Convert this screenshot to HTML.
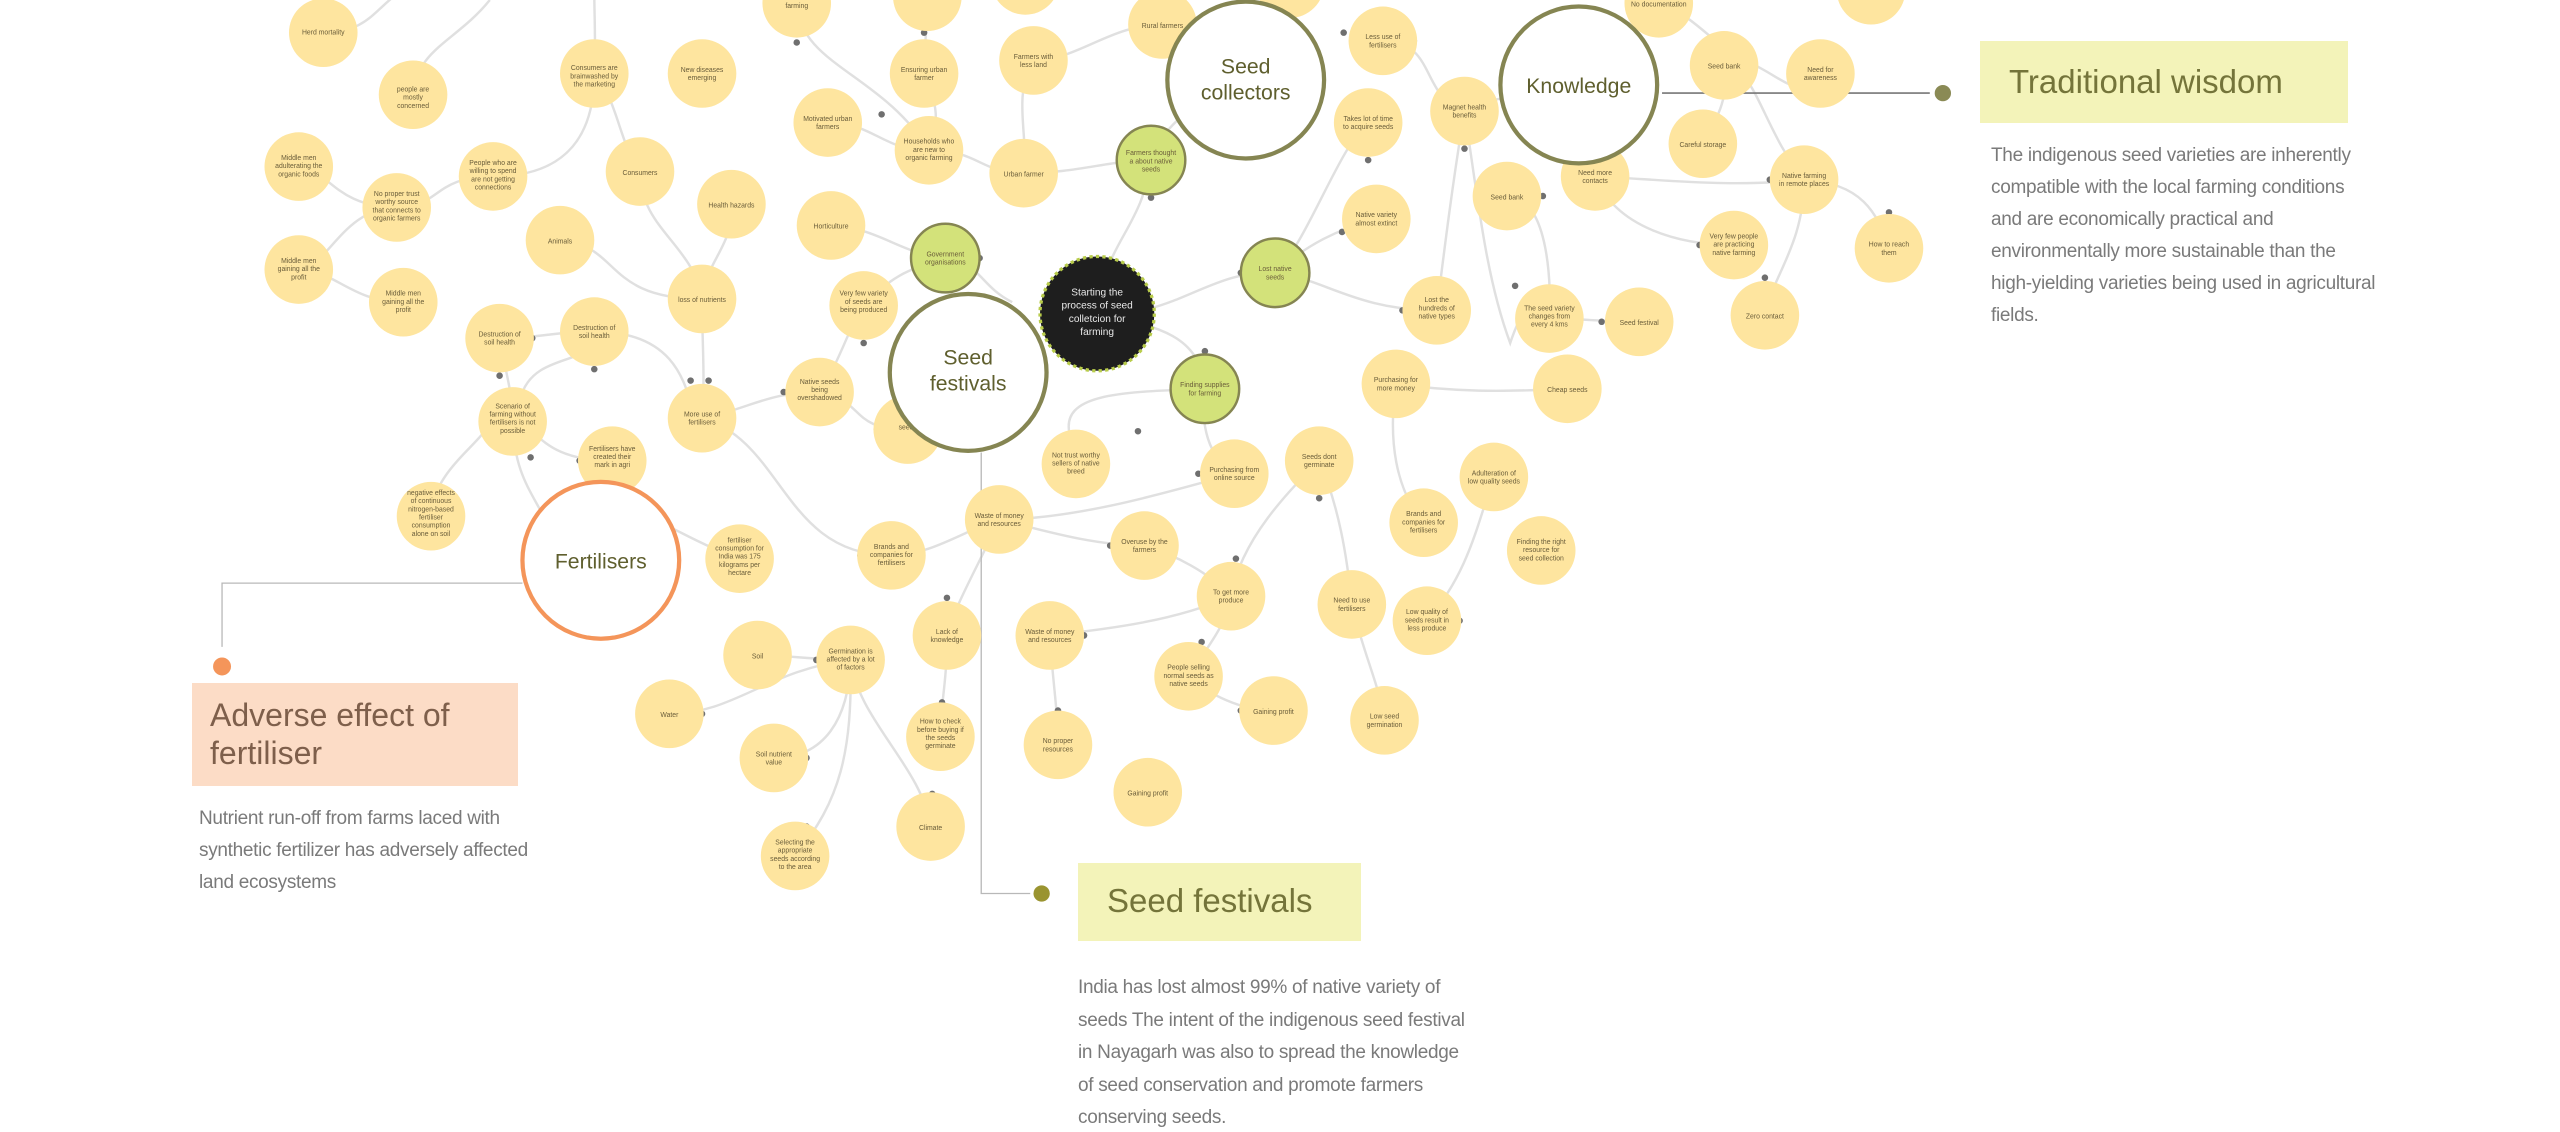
<!DOCTYPE html>
<html><head><meta charset="utf-8"><style>
html,body{margin:0;padding:0;background:#fff;width:2560px;height:1132px;overflow:hidden;position:relative;font-family:"Liberation Sans",sans-serif}
svg{position:absolute;left:0;top:0}
.box{position:absolute;box-sizing:border-box}
.h{font-family:"Liberation Sans",sans-serif;font-size:32px;line-height:38px}
.p{position:absolute;font-size:19px;letter-spacing:-0.3px;line-height:33px;color:#7a7a7a;font-family:"Liberation Sans",sans-serif;white-space:nowrap}
.s text{font-size:4.2px;fill:#6a5d3a;text-anchor:middle;font-family:"Liberation Sans",sans-serif}
</style></head><body>
<svg width="2560" height="1132" viewBox="0 0 1568 693" preserveAspectRatio="none">
<g fill="none" stroke="#e0e0e0" stroke-width="1.5">
<path d="M198 20 C225 20 230 5 245 -5"/>
<path d="M253 58 C255 30 280 25 300 0"/>
<path d="M364 45 C365 25 364 10 364 -5"/>
<path d="M364 45 C364 90 340 108 302 108"/>
<path d="M183 102 C200 102 205 127 243 127"/>
<path d="M183 165 C200 165 210 127 243 127"/>
<path d="M243 127 C270 127 265 108 302 108"/>
<path d="M183 165 C205 165 215 185 247 185"/>
<path d="M364 45 C378 60 380 90 392 105"/>
<path d="M392 105 C392 140 425 150 430 183"/>
<path d="M448 125 C450 150 432 160 430 183"/>
<path d="M343 147 C380 150 370 183 430 183"/>
<path d="M430 183 C430 210 432 230 430 256"/>
<path d="M364 203 C410 203 420 230 425 256"/>
<path d="M306 207 C330 207 340 203 364 203"/>
<path d="M306 207 C310 230 314 240 314 258"/>
<path d="M364 203 C364 225 330 215 320 240"/>
<path d="M314 258 C330 260 330 282 375 282"/>
<path d="M264 316 C265 290 290 275 300 260"/>
<path d="M314 258 C315 290 325 300 335 320"/>
<path d="M430 256 C460 250 470 240 502 240"/>
<path d="M430 256 C480 270 480 340 546 340"/>
<path d="M502 240 C515 220 520 200 529 187"/>
<path d="M502 240 C530 245 520 263 556 263"/>
<path d="M529 187 C545 170 555 165 579 158"/>
<path d="M509 138 C540 140 550 155 579 158"/>
<path d="M579 158 C600 160 600 175 620 185"/>
<path d="M672 192 C675 150 700 140 705 98"/>
<path d="M672 192 C720 195 740 165 781 167"/>
<path d="M672 192 C710 200 735 205 738 238"/>
<path d="M705 98 C680 98 660 106 627 106"/>
<path d="M705 98 C712 75 735 65 750 45"/>
<path d="M627 106 C600 106 600 92 569 92"/>
<path d="M569 92 C540 92 535 75 507 75"/>
<path d="M566 45 C575 65 575 75 569 92"/>
<path d="M566 45 C566 30 568 15 568 0"/>
<path d="M488 2 C490 40 540 45 569 92"/>
<path d="M627 106 C630 80 620 60 633 37"/>
<path d="M633 37 C660 37 680 15 712 15"/>
<path d="M781 167 C800 150 820 90 838 75"/>
<path d="M781 167 C800 150 820 140 843 134"/>
<path d="M781 167 C810 170 830 190 880 190"/>
<path d="M897 68 C890 110 885 150 880 190"/>
<path d="M847 25 C880 25 870 60 897 68"/>
<path d="M968 52 C930 60 905 60 897 68"/>
<path d="M897 68 C905 120 910 170 925 210 C935 180 940 190 949 195"/>
<path d="M923 120 C950 120 950 180 949 195"/>
<path d="M949 195 C965 195 985 197 1004 197"/>
<path d="M977 108 C1020 110 1060 115 1105 110"/>
<path d="M1056 40 C1060 60 1050 75 1043 88"/>
<path d="M1056 40 C1075 40 1080 80 1105 110"/>
<path d="M1016 2 C1040 10 1050 30 1075 40 C1095 50 1100 60 1115 45"/>
<path d="M1105 110 C1140 112 1150 130 1157 152"/>
<path d="M1105 110 C1105 150 1085 170 1081 193"/>
<path d="M977 108 C990 140 1030 150 1062 150"/>
<path d="M855 235 C890 240 920 240 960 238"/>
<path d="M855 235 C850 270 855 300 872 320"/>
<path d="M738 238 C735 260 740 280 756 290"/>
<path d="M738 238 C690 240 650 240 655 265"/>
<path d="M756 290 C720 300 660 318 612 318"/>
<path d="M612 318 C590 325 570 340 546 340"/>
<path d="M808 282 C790 300 760 330 754 365"/>
<path d="M701 334 C720 340 740 350 754 365"/>
<path d="M612 318 C640 325 670 334 701 334"/>
<path d="M754 365 C750 385 740 395 728 414"/>
<path d="M728 414 C740 425 760 435 780 435"/>
<path d="M915 292 C905 320 900 350 874 380"/>
<path d="M828 370 C835 400 845 420 848 441"/>
<path d="M808 282 C820 310 825 340 828 370"/>
<path d="M643 389 C680 385 720 380 754 365"/>
<path d="M643 389 C645 420 648 435 648 456"/>
<path d="M580 389 C585 370 600 345 612 318"/>
<path d="M580 389 C580 420 576 430 576 451"/>
<path d="M521 404 C500 404 480 401 464 401"/>
<path d="M521 404 C470 410 450 437 410 437"/>
<path d="M521 404 C520 440 505 464 474 464"/>
<path d="M521 404 C522 460 515 490 487 524"/>
<path d="M521 404 C525 440 565 470 570 506"/>
<path d="M453 342 C420 330 410 320 400 320"/>
</g>
<g fill="#6f6f6f">
<circle cx="488" cy="26" r="2"/><circle cx="566" cy="20" r="2"/><circle cx="540" cy="70" r="2"/><circle cx="586" cy="97" r="2"/><circle cx="705" cy="121" r="2"/><circle cx="697" cy="264" r="2"/><circle cx="738" cy="215" r="2"/><circle cx="760" cy="167" r="2"/><circle cx="823" cy="20" r="2"/><circle cx="866" cy="25" r="2"/><circle cx="897" cy="91" r="2"/><circle cx="945" cy="120" r="2"/><circle cx="1084" cy="110" r="2"/><circle cx="1157" cy="130" r="2"/><circle cx="1081" cy="170" r="2"/><circle cx="1041" cy="150" r="2"/><circle cx="981" cy="197" r="2"/><circle cx="859" cy="190" r="2"/><circle cx="928" cy="175" r="2"/><circle cx="838" cy="98" r="2"/><circle cx="822" cy="142" r="2"/><circle cx="1098" cy="40" r="2"/><circle cx="1098" cy="53" r="2"/><circle cx="480" cy="240" r="2"/><circle cx="537" cy="263" r="2"/><circle cx="600" cy="158" r="2"/><circle cx="529" cy="210" r="2"/><circle cx="423" cy="233" r="2"/><circle cx="434" cy="233" r="2"/><circle cx="326" cy="207" r="2"/><circle cx="364" cy="226" r="2"/><circle cx="306" cy="230" r="2"/><circle cx="325" cy="280" r="2"/><circle cx="355" cy="282" r="2"/><circle cx="527" cy="340" r="2"/><circle cx="680" cy="334" r="2"/><circle cx="734" cy="290" r="2"/><circle cx="757" cy="342" r="2"/><circle cx="736" cy="393" r="2"/><circle cx="760" cy="435" r="2"/><circle cx="808" cy="305" r="2"/><circle cx="580" cy="366" r="2"/><circle cx="577" cy="430" r="2"/><circle cx="664" cy="389" r="2"/><circle cx="648" cy="435" r="2"/><circle cx="500" cy="404" r="2"/><circle cx="430" cy="437" r="2"/><circle cx="494" cy="464" r="2"/><circle cx="494" cy="506" r="2"/><circle cx="571" cy="486" r="2"/><circle cx="894" cy="380" r="2"/><circle cx="874" cy="320" r="2"/>
</g>
<g fill="none" stroke="#b8b8b8" stroke-width="0.8">
<path d="M136 396 V357 H320"/>
<path d="M601 277 V547 H631"/>
</g>
<line x1="1018" y1="57" x2="1182" y2="57" stroke="#777" stroke-width="1"/>
<circle cx="1190" cy="57" r="5" fill="#8a8a55"/>
<circle cx="136" cy="408" r="5.5" fill="#f4955a"/>
<circle cx="638" cy="547" r="5" fill="#9a9430"/>
<g class="s" fill="#fee59f">
<circle cx="198" cy="20" r="21"/><circle cx="253" cy="58" r="21"/><circle cx="364" cy="45" r="21"/><circle cx="430" cy="45" r="21"/><circle cx="488" cy="2" r="21"/><circle cx="568" cy="-2" r="21"/><circle cx="628" cy="-12" r="21"/><circle cx="566" cy="45" r="21"/><circle cx="633" cy="37" r="21"/><circle cx="712" cy="15" r="21"/><circle cx="790" cy="-10" r="21"/><circle cx="847" cy="25" r="21"/><circle cx="1016" cy="2" r="21"/><circle cx="1146" cy="-6" r="21"/><circle cx="1056" cy="40" r="21"/><circle cx="1115" cy="45" r="21"/>
<circle cx="183" cy="102" r="21"/><circle cx="243" cy="127" r="21"/><circle cx="302" cy="108" r="21"/><circle cx="392" cy="105" r="21"/><circle cx="507" cy="75" r="21"/><circle cx="569" cy="92" r="21"/><circle cx="627" cy="106" r="21"/><circle cx="897" cy="68" r="21"/><circle cx="838" cy="75" r="21"/><circle cx="977" cy="108" r="21"/><circle cx="1043" cy="88" r="21"/><circle cx="1105" cy="110" r="21"/><circle cx="1157" cy="152" r="21"/><circle cx="923" cy="120" r="21"/><circle cx="1062" cy="150" r="21"/><circle cx="1081" cy="193" r="21"/><circle cx="843" cy="134" r="21"/><circle cx="448" cy="125" r="21"/><circle cx="343" cy="147" r="21"/><circle cx="509" cy="138" r="21"/><circle cx="183" cy="165" r="21"/><circle cx="247" cy="185" r="21"/><circle cx="430" cy="183" r="21"/><circle cx="529" cy="187" r="21"/><circle cx="306" cy="207" r="21"/><circle cx="364" cy="203" r="21"/><circle cx="880" cy="190" r="21"/><circle cx="949" cy="195" r="21"/><circle cx="1004" cy="197" r="21"/><circle cx="502" cy="240" r="21"/><circle cx="430" cy="256" r="21"/><circle cx="556" cy="263" r="21"/><circle cx="314" cy="258" r="21"/><circle cx="375" cy="282" r="21"/><circle cx="855" cy="235" r="21"/><circle cx="960" cy="238" r="21"/><circle cx="659" cy="284" r="21"/><circle cx="756" cy="290" r="21"/><circle cx="808" cy="282" r="21"/><circle cx="264" cy="316" r="21"/><circle cx="453" cy="342" r="21"/><circle cx="612" cy="318" r="21"/><circle cx="546" cy="340" r="21"/><circle cx="701" cy="334" r="21"/><circle cx="872" cy="320" r="21"/><circle cx="915" cy="292" r="21"/><circle cx="944" cy="337" r="21"/><circle cx="754" cy="365" r="21"/><circle cx="828" cy="370" r="21"/><circle cx="874" cy="380" r="21"/><circle cx="464" cy="401" r="21"/><circle cx="521" cy="404" r="21"/><circle cx="580" cy="389" r="21"/><circle cx="643" cy="389" r="21"/><circle cx="410" cy="437" r="21"/><circle cx="728" cy="414" r="21"/><circle cx="780" cy="435" r="21"/><circle cx="848" cy="441" r="21"/><circle cx="474" cy="464" r="21"/><circle cx="576" cy="451" r="21"/><circle cx="648" cy="456" r="21"/><circle cx="703" cy="485" r="21"/><circle cx="487" cy="524" r="21"/><circle cx="570" cy="506" r="21"/>
<text x="198" y="21">Herd mortality</text>
<text x="253" y="56"><tspan x="253">people are</tspan><tspan x="253" dy="5">mostly</tspan><tspan x="253" dy="5">concerned</tspan></text>
<text x="364" y="43"><tspan x="364">Consumers are</tspan><tspan x="364" dy="5">brainwashed by</tspan><tspan x="364" dy="5">the marketing</tspan></text>
<text x="430" y="44"><tspan x="430">New diseases</tspan><tspan x="430" dy="5">emerging</tspan></text>
<text x="488" y="0"><tspan x="488">to do the</tspan><tspan x="488" dy="5">farming</tspan></text>
<text x="566" y="44"><tspan x="566">Ensuring urban</tspan><tspan x="566" dy="5">farmer</tspan></text>
<text x="633" y="36"><tspan x="633">Farmers with</tspan><tspan x="633" dy="5">less land</tspan></text>
<text x="712" y="17">Rural farmers</text>
<text x="847" y="24"><tspan x="847">Less use of</tspan><tspan x="847" dy="5">fertilisers</tspan></text>
<text x="1016" y="4">No documentation</text>
<text x="1056" y="42">Seed bank</text>
<text x="1115" y="44"><tspan x="1115">Need for</tspan><tspan x="1115" dy="5">awareness</tspan></text>
<text x="183" y="98"><tspan x="183">Middle men</tspan><tspan x="183" dy="5">adulterating the</tspan><tspan x="183" dy="5">organic foods</tspan></text>
<text x="243" y="120"><tspan x="243">No proper trust</tspan><tspan x="243" dy="5">worthy source</tspan><tspan x="243" dy="5">that connects to</tspan><tspan x="243" dy="5">organic farmers</tspan></text>
<text x="302" y="101"><tspan x="302">People who are</tspan><tspan x="302" dy="5">willing to spend</tspan><tspan x="302" dy="5">are not getting</tspan><tspan x="302" dy="5">connections</tspan></text>
<text x="392" y="107">Consumers</text>
<text x="507" y="74"><tspan x="507">Motivated urban</tspan><tspan x="507" dy="5">farmers</tspan></text>
<text x="569" y="88"><tspan x="569">Households who</tspan><tspan x="569" dy="5">are new to</tspan><tspan x="569" dy="5">organic farming</tspan></text>
<text x="627" y="108">Urban farmer</text>
<text x="897" y="67"><tspan x="897">Magnet health</tspan><tspan x="897" dy="5">benefits</tspan></text>
<text x="838" y="74"><tspan x="838">Takes lot of time</tspan><tspan x="838" dy="5">to acquire seeds</tspan></text>
<text x="977" y="107"><tspan x="977">Need more</tspan><tspan x="977" dy="5">contacts</tspan></text>
<text x="1043" y="90">Careful storage</text>
<text x="1105" y="109"><tspan x="1105">Native farming</tspan><tspan x="1105" dy="5">in remote places</tspan></text>
<text x="1157" y="151"><tspan x="1157">How to reach</tspan><tspan x="1157" dy="5">them</tspan></text>
<text x="923" y="122">Seed bank</text>
<text x="1062" y="146"><tspan x="1062">Very few people</tspan><tspan x="1062" dy="5">are practicing</tspan><tspan x="1062" dy="5">native farming</tspan></text>
<text x="1081" y="195">Zero contact</text>
<text x="843" y="133"><tspan x="843">Native variety</tspan><tspan x="843" dy="5">almost extinct</tspan></text>
<text x="448" y="127">Health hazards</text>
<text x="343" y="149">Animals</text>
<text x="509" y="140">Horticulture</text>
<text x="183" y="161"><tspan x="183">Middle men</tspan><tspan x="183" dy="5">gaining all the</tspan><tspan x="183" dy="5">profit</tspan></text>
<text x="247" y="181"><tspan x="247">Middle men</tspan><tspan x="247" dy="5">gaining all the</tspan><tspan x="247" dy="5">profit</tspan></text>
<text x="430" y="185">loss of nutrients</text>
<text x="529" y="181"><tspan x="529">Very few variety</tspan><tspan x="529" dy="5">of seeds are</tspan><tspan x="529" dy="5">being produced</tspan></text>
<text x="306" y="206"><tspan x="306">Destruction of</tspan><tspan x="306" dy="5">soil health</tspan></text>
<text x="364" y="202"><tspan x="364">Destruction of</tspan><tspan x="364" dy="5">soil health</tspan></text>
<text x="880" y="185"><tspan x="880">Lost the</tspan><tspan x="880" dy="5">hundreds of</tspan><tspan x="880" dy="5">native types</tspan></text>
<text x="949" y="190"><tspan x="949">The seed variety</tspan><tspan x="949" dy="5">changes from</tspan><tspan x="949" dy="5">every 4 kms</tspan></text>
<text x="1004" y="199">Seed festival</text>
<text x="502" y="235"><tspan x="502">Native seeds</tspan><tspan x="502" dy="5">being</tspan><tspan x="502" dy="5">overshadowed</tspan></text>
<text x="430" y="255"><tspan x="430">More use of</tspan><tspan x="430" dy="5">fertilisers</tspan></text>
<text x="556" y="263">seeds</text>
<text x="314" y="250"><tspan x="314">Scenario of</tspan><tspan x="314" dy="5">farming without</tspan><tspan x="314" dy="5">fertilisers is not</tspan><tspan x="314" dy="5">possible</tspan></text>
<text x="375" y="276"><tspan x="375">Fertilisers have</tspan><tspan x="375" dy="5">created their</tspan><tspan x="375" dy="5">mark in agri</tspan></text>
<text x="855" y="234"><tspan x="855">Purchasing for</tspan><tspan x="855" dy="5">more money</tspan></text>
<text x="960" y="240">Cheap seeds</text>
<text x="659" y="280"><tspan x="659">Not trust worthy</tspan><tspan x="659" dy="5">sellers of native</tspan><tspan x="659" dy="5">breed</tspan></text>
<text x="756" y="289"><tspan x="756">Purchasing from</tspan><tspan x="756" dy="5">online source</tspan></text>
<text x="808" y="281"><tspan x="808">Seeds dont</tspan><tspan x="808" dy="5">germinate</tspan></text>
<text x="264" y="303"><tspan x="264">negative effects</tspan><tspan x="264" dy="5">of continuous</tspan><tspan x="264" dy="5">nitrogen-based</tspan><tspan x="264" dy="5">fertiliser</tspan><tspan x="264" dy="5">consumption</tspan><tspan x="264" dy="5">alone on soil</tspan></text>
<text x="453" y="332"><tspan x="453">fertiliser</tspan><tspan x="453" dy="5">consumption for</tspan><tspan x="453" dy="5">India was 175</tspan><tspan x="453" dy="5">kilograms per</tspan><tspan x="453" dy="5">hectare</tspan></text>
<text x="612" y="317"><tspan x="612">Waste of money</tspan><tspan x="612" dy="5">and resources</tspan></text>
<text x="546" y="336"><tspan x="546">Brands and</tspan><tspan x="546" dy="5">companies for</tspan><tspan x="546" dy="5">fertilisers</tspan></text>
<text x="701" y="333"><tspan x="701">Overuse by the</tspan><tspan x="701" dy="5">farmers</tspan></text>
<text x="872" y="316"><tspan x="872">Brands and</tspan><tspan x="872" dy="5">companies for</tspan><tspan x="872" dy="5">fertilisers</tspan></text>
<text x="915" y="291"><tspan x="915">Adulteration of</tspan><tspan x="915" dy="5">low quality seeds</tspan></text>
<text x="944" y="333"><tspan x="944">Finding the right</tspan><tspan x="944" dy="5">resource for</tspan><tspan x="944" dy="5">seed collection</tspan></text>
<text x="754" y="364"><tspan x="754">To get more</tspan><tspan x="754" dy="5">produce</tspan></text>
<text x="828" y="369"><tspan x="828">Need to use</tspan><tspan x="828" dy="5">fertilisers</tspan></text>
<text x="874" y="376"><tspan x="874">Low quality of</tspan><tspan x="874" dy="5">seeds result in</tspan><tspan x="874" dy="5">less produce</tspan></text>
<text x="464" y="403">Soil</text>
<text x="521" y="400"><tspan x="521">Germination is</tspan><tspan x="521" dy="5">affected by a lot</tspan><tspan x="521" dy="5">of factors</tspan></text>
<text x="580" y="388"><tspan x="580">Lack of</tspan><tspan x="580" dy="5">knowledge</tspan></text>
<text x="643" y="388"><tspan x="643">Waste of money</tspan><tspan x="643" dy="5">and resources</tspan></text>
<text x="410" y="439">Water</text>
<text x="728" y="410"><tspan x="728">People selling</tspan><tspan x="728" dy="5">normal seeds as</tspan><tspan x="728" dy="5">native seeds</tspan></text>
<text x="780" y="437">Gaining profit</text>
<text x="848" y="440"><tspan x="848">Low seed</tspan><tspan x="848" dy="5">germination</tspan></text>
<text x="474" y="463"><tspan x="474">Soil nutrient</tspan><tspan x="474" dy="5">value</tspan></text>
<text x="576" y="443"><tspan x="576">How to check</tspan><tspan x="576" dy="5">before buying if</tspan><tspan x="576" dy="5">the seeds</tspan><tspan x="576" dy="5">germinate</tspan></text>
<text x="648" y="455"><tspan x="648">No proper</tspan><tspan x="648" dy="5">resources</tspan></text>
<text x="703" y="487">Gaining profit</text>
<text x="487" y="517"><tspan x="487">Selecting the</tspan><tspan x="487" dy="5">appropriate</tspan><tspan x="487" dy="5">seeds according</tspan><tspan x="487" dy="5">to the area</tspan></text>
<text x="570" y="508">Climate</text>
</g>
<g class="s" fill="#d3e27a" stroke="#858552" stroke-width="1.5">
<circle cx="579" cy="158" r="21"/><circle cx="705" cy="98" r="21"/><circle cx="781" cy="167" r="21"/><circle cx="738" cy="238" r="21"/>
</g>
<g class="s">
<text x="579" y="157"><tspan x="579">Government</tspan><tspan x="579" dy="5">organisations</tspan></text>
<text x="705" y="95"><tspan x="705">Farmers thought</tspan><tspan x="705" dy="5">a about native</tspan><tspan x="705" dy="5">seeds</tspan></text>
<text x="781" y="166"><tspan x="781">Lost native</tspan><tspan x="781" dy="5">seeds</tspan></text>
<text x="738" y="237"><tspan x="738">Finding supplies</tspan><tspan x="738" dy="5">for farming</tspan></text>
</g>
<circle cx="672" cy="192" r="35" fill="#1e1e1e" stroke="#b8cc4a" stroke-width="2" stroke-dasharray="2 2"/>
<g font-family="Liberation Sans, sans-serif" font-size="6.2" fill="#e8e8e8" text-anchor="middle">
<text x="672" y="181">Starting the</text><text x="672" y="189">process of seed</text><text x="672" y="197">colletcion for</text><text x="672" y="205">farming</text>
</g>
<g fill="#fff" stroke="#858552" stroke-width="2.6">
<circle cx="763" cy="49" r="48"/><circle cx="967" cy="52" r="48"/><circle cx="593" cy="228" r="48"/>
</g>
<circle cx="368" cy="343" r="48" fill="#fff" stroke="#f4955a" stroke-width="2.6"/>
<g font-family="Liberation Sans, sans-serif" font-size="13" fill="#5f5f2e" text-anchor="middle">
<text x="763" y="45">Seed</text><text x="763" y="61">collectors</text>
<text x="967" y="57">Knowledge</text>
<text x="593" y="223">Seed</text><text x="593" y="239">festivals</text>
<text x="368" y="348">Fertilisers</text>
</g>
</svg>

<div class="box" style="left:1980px;top:41px;width:368px;height:82px;background:#f3f3b9"></div>
<div class="h" style="position:absolute;left:2009px;top:63px;color:#74743a;font-size:33px">Traditional wisdom</div>
<div class="p" style="left:1991px;top:140px;line-height:32px">The indigenous seed varieties are inherently<br>compatible with the local farming conditions<br>and are economically practical and<br>environmentally more sustainable than the<br>high-yielding varieties being used in agricultural<br>fields.</div>

<div class="box" style="left:192px;top:683px;width:326px;height:103px;background:#fcdcc6"></div>
<div class="h" style="position:absolute;left:210px;top:696px;color:#7e5f4b;font-size:32px">Adverse effect of<br>fertiliser</div>
<div class="p" style="left:199px;top:803px;line-height:32px">Nutrient run-off from farms laced with<br>synthetic fertilizer has adversely affected<br>land ecosystems</div>

<div class="box" style="left:1078px;top:863px;width:283px;height:78px;background:#f3f3b9"></div>
<div class="h" style="position:absolute;left:1107px;top:882px;color:#74743a;font-size:33px">Seed festivals</div>
<div class="p" style="left:1078px;top:972px;line-height:32.5px">India has lost almost 99% of native variety of<br>seeds The intent of the indigenous seed festival<br>in Nayagarh was also to spread the knowledge<br>of seed conservation and promote farmers<br>conserving seeds.</div>
</body></html>
